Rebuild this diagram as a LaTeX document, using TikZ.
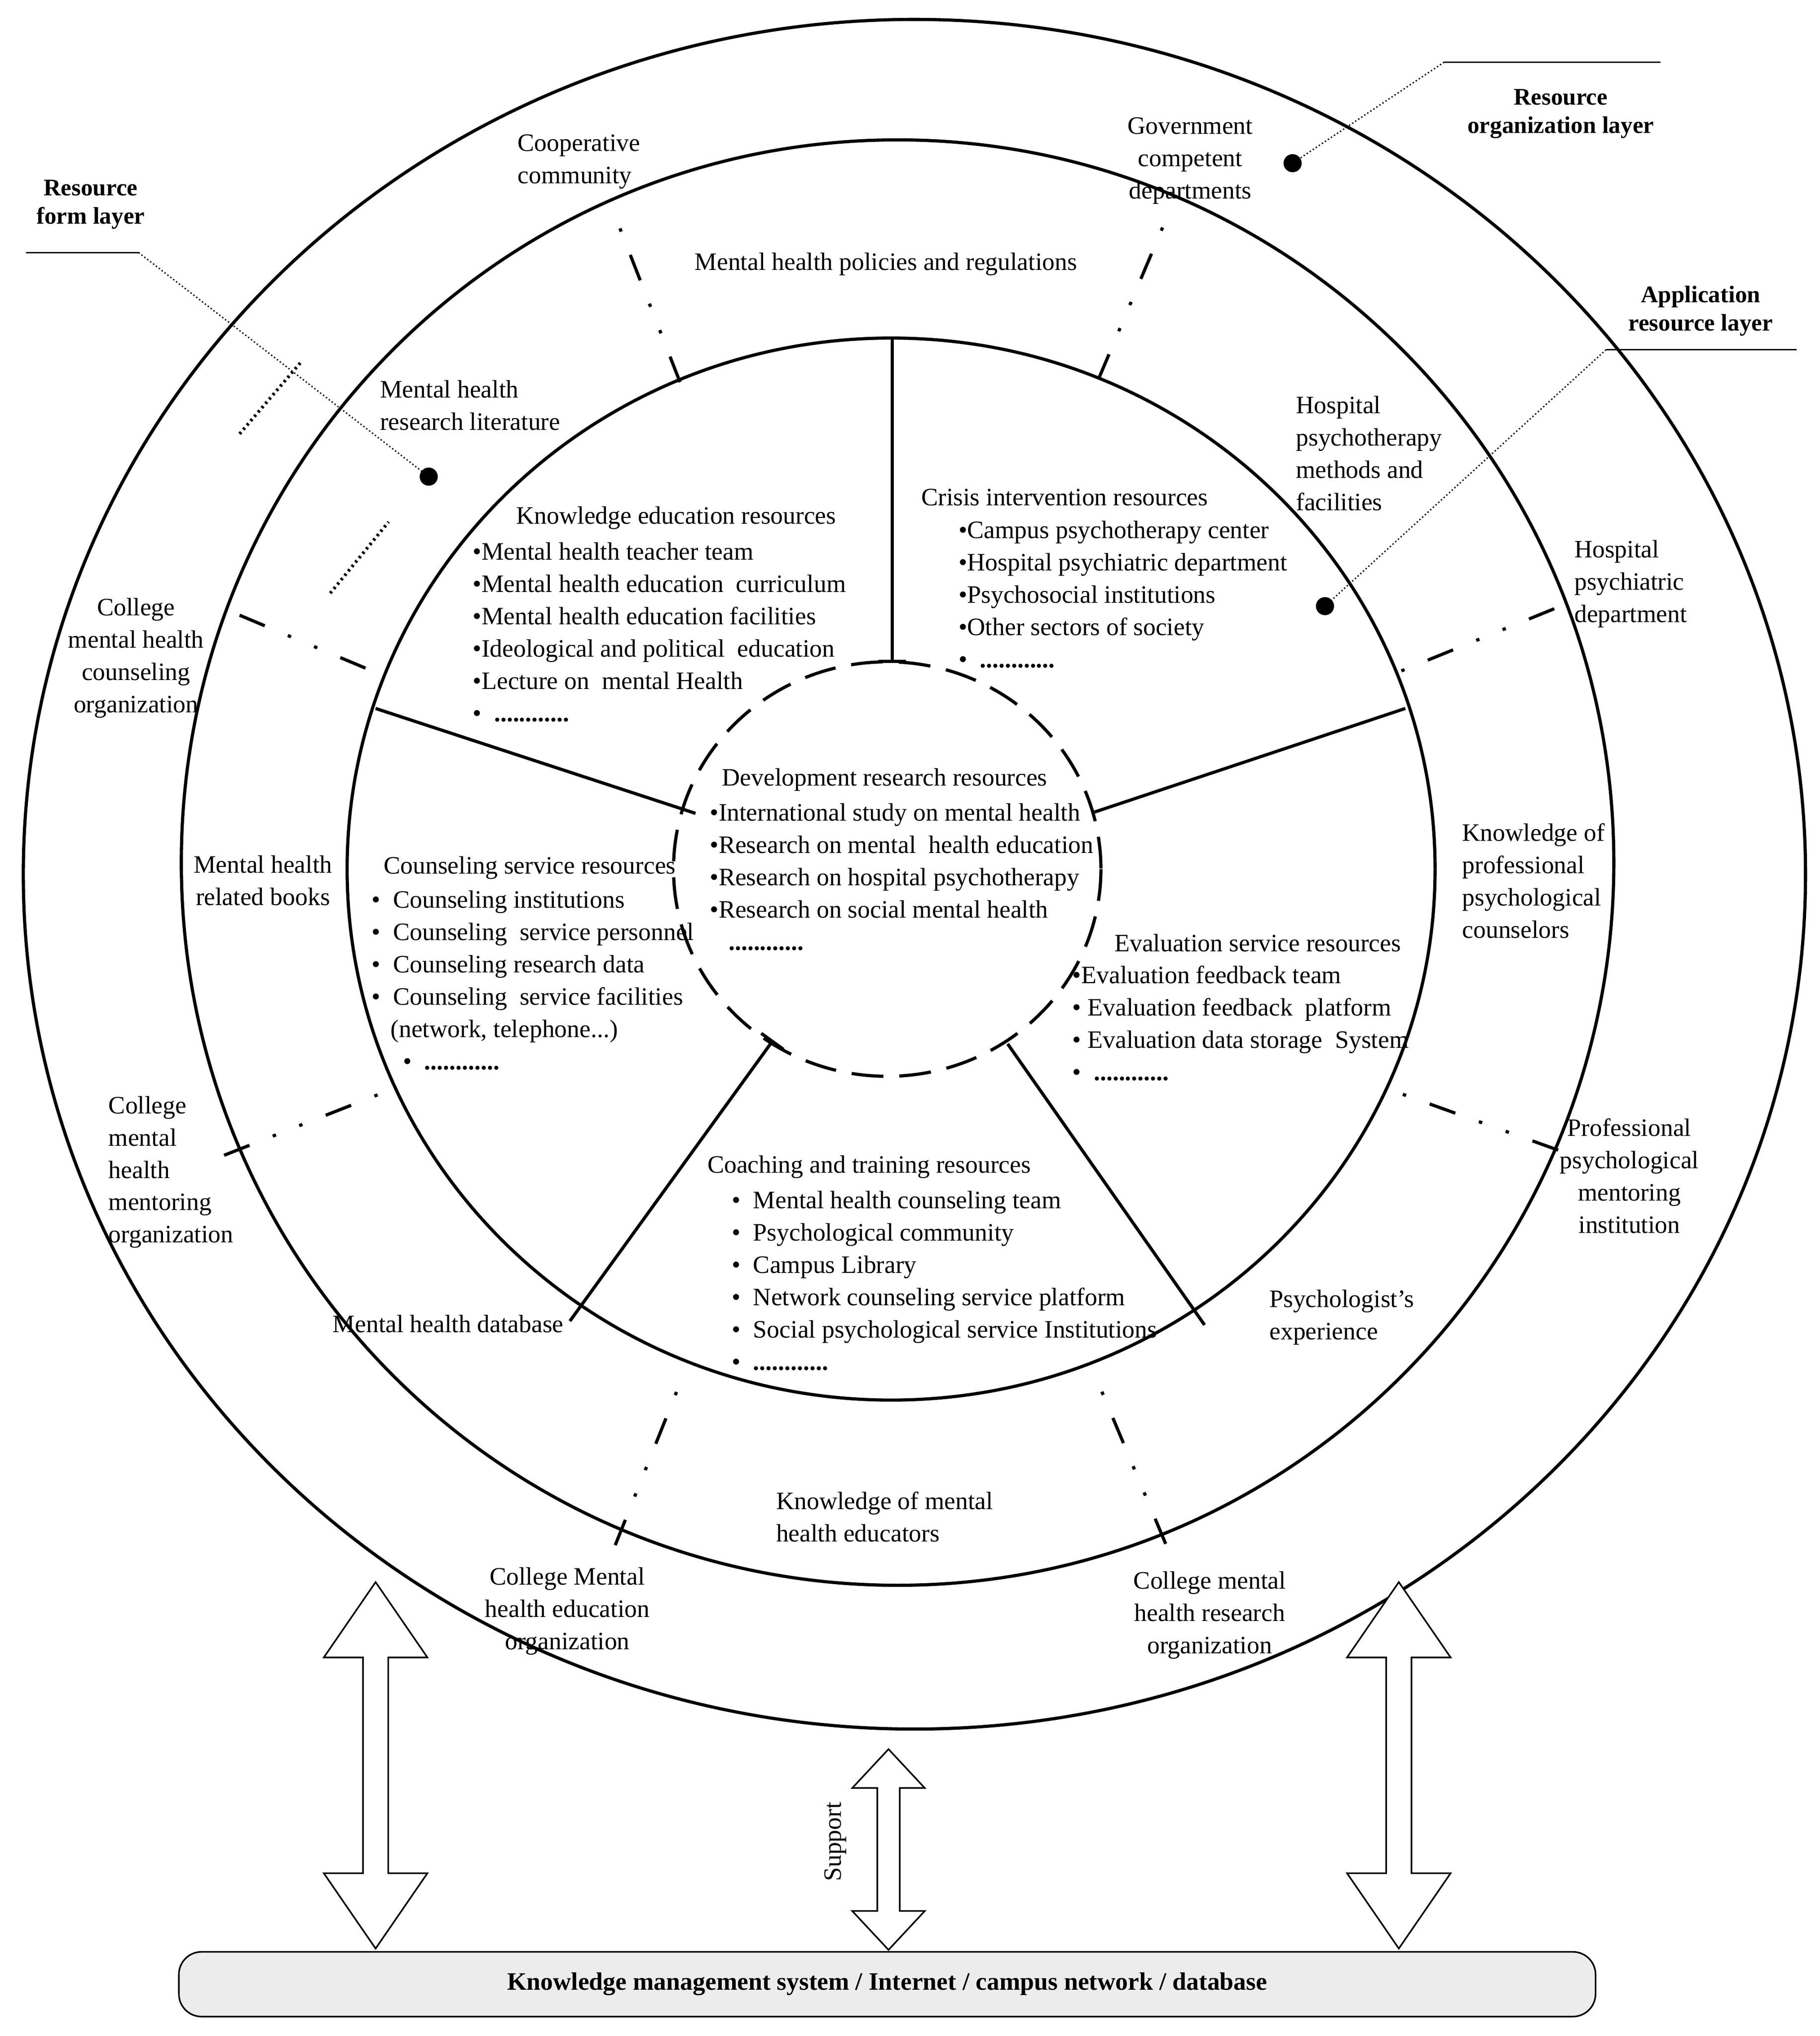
\documentclass[tikz,border=0pt]{standalone}
\usepackage{fontspec}
\setmainfont{Liberation Serif}
\usetikzlibrary{shapes.arrows, arrows.meta}

\begin{document}
\begin{tikzpicture}[x = 0.02cm, y = -0.02cm,
	txt/.style = {font = \fontsize{11}{14.2}\selectfont, inner sep = 1pt, align = center},
	lst/.style = {txt, align = left, anchor = west},
	lbl/.style = {txt, font = \fontsize{10.5}{12.5}\selectfont\bfseries},
	ring/.style = {line width = 1.4pt},
	spoke/.style = {line width = 1.4pt},
	dd/.style = {line width = 1.4pt, dash pattern = on 12pt off 11pt on 1.5pt off 11pt on 1.5pt off 11pt},
	dots/.style = {line width = 1.4pt, dash pattern = on 1pt off 1.5pt},
	lead/.style = {densely dotted, line width = 0.6pt},
	dar/.style = {draw, double arrow, rotate = 90, line width = 0.7pt, fill = white}]

\useasboundingbox (0, 0) rectangle (1405, 1572);

% rings
\draw [ring] (706, 675) ellipse [x radius = 688, y radius = 660];
\draw [ring] (693, 666) ellipse [x radius = 553, y radius = 558];
\draw [ring] (688, 671) ellipse [x radius = 420, y radius = 410];
\draw [ring, dash pattern = on 14pt off 7pt] (685, 671) ellipse [x radius = 165, y radius = 160];

% spokes
\coordinate (s1a) at (689, 262); \coordinate (s1b) at (689, 512);
\coordinate (s2a) at (290, 547); \coordinate (s2b) at (537, 628);
\coordinate (s3a) at (1085, 547); \coordinate (s3b) at (845, 627);
\coordinate (s4a) at (440, 1020); \coordinate (s4b) at (597, 803);
\coordinate (s5a) at (930, 1023); \coordinate (s5b) at (778, 806);
\draw [spoke, -{Bar[width = 12pt]}] (s1a) -- (s1b);
\draw [spoke] (s2a) -- (s2b);
\draw [spoke] (s3a) -- (s3b);
\draw [spoke, -{Bar[width = 12pt]}] (s4a) -- (s4b);
\draw [spoke] (s5a) -- (s5b);

% dash-dot separators
\foreach \a/\b/\c/\d in {525/295/475/167, 848/293/900/170, 185/475/292/520, 1200/470/1077/520,
	173/892/300/842, 1203/888/1075/842, 475/1193/525/1068, 900/1192/848/1068}
	\draw [dd] (\a, \b) -- (\c, \d);

\draw [dots] (185, 335) -- (232, 280);
\draw [dots] (255, 458) -- (300, 403);

% layer labels
\node [lbl] (form) at (70, 158) {Resource\\form layer};
\node [lbl] (org) at (1205, 88) {Resource\\organization layer};
\node [lbl] (app) at (1313, 240) {Application\\resource layer};

\coordinate (f1) at (20, 195); \coordinate (f2) at (107, 195);
\coordinate (o1) at (1115, 48); \coordinate (o2) at (1282, 48);
\coordinate (a1) at (1240, 270); \coordinate (a2) at (1387, 270);
\fill (331, 368) circle (7) coordinate (fd);
\fill (998, 126) circle (7) coordinate (od);
\fill (1023, 468) circle (7) coordinate (ad);
\draw [line width = 0.6pt] (f1) -- (f2);
\draw [line width = 0.6pt] (o1) -- (o2);
\draw [line width = 0.6pt] (a1) -- (a2);
\draw [lead] (f2) -- (fd);
\draw [lead] (o1) -- (od);
\draw [lead] (a1) -- (ad);

% outer ring texts
\node [txt, align = left] (coop) at (447, 125) {Cooperative\\community};
\node [txt] (gov) at (919, 124) {Government\\competent\\departments};
\node [txt, align = left] (hpd) at (1259, 451) {Hospital\\psychiatric\\department};
\node [txt] (cmhc) at (105, 508) {College\\mental health\\counseling\\organization};
\node [txt, align = left] (cmhm) at (132, 905) {College\\mental\\health\\mentoring\\organization};
\node [txt] (ppmi) at (1258, 908) {Professional\\psychological\\mentoring\\institution};
\node [txt] (cmhe) at (438, 1244) {College Mental\\health education\\organization};
\node [txt] (cmhr) at (934, 1247) {College mental\\health research\\organization};

% middle ring texts
\node [txt] (pol) at (684, 204) {Mental health policies and regulations};
\node [txt, align = left] (lit) at (363, 313) {Mental health\\research literature};
\node [txt, align = left] (hpm) at (1057, 350) {Hospital\\psychotherapy\\methods and\\facilities};
\node [txt] (books) at (203, 680) {Mental health\\related books};
\node [txt, align = left] (kpc) at (1184, 680) {Knowledge of\\professional\\psychological\\counselors};
\node [txt] (db) at (346, 1022) {Mental health database};
\node [txt, align = left] (exp) at (1036, 1017) {Psychologist's\\experience};
\node [txt, align = left] (kme) at (683, 1171) {Knowledge of mental\\health educators};

% inner sectors
\node [txt] (ket) at (522, 400) {Knowledge education resources};
\node [lst] (kel) at (363, 488) {•Mental health teacher team\\•Mental health education\ \ curriculum\\•Mental health education facilities\\•Ideological and political\ \ education\\•Lecture on\ \ mental Health\\•\ \ \textbf{............}};

\node [txt] (cit) at (822, 384) {Crisis intervention resources};
\node [lst] (cil) at (738, 459) {•Campus psychotherapy center\\•Hospital psychiatric department\\•Psychosocial institutions\\•Other sectors of society\\•\ \ \textbf{............}};

\node [txt] (drt) at (683, 602) {Development research resources};
\node [lst] (drl) at (546, 677) {•International study on mental health\\•Research on mental\ \ health education\\•Research on hospital psychotherapy\\•Research on social mental health\\\ \ \ \textbf{............}};

\node [txt] (cst) at (409, 670) {Counseling service resources};
\node [lst] (csl) at (285, 757) {•\ \ Counseling institutions\\•\ \ Counseling\ \ service personnel\\•\ \ Counseling research data\\•\ \ Counseling\ \ service facilities\\\ \ \ (network, telephone...)\\\ \ \ \ \ •\ \ \textbf{............}};

\node [txt] (evt) at (971, 728) {Evaluation service resources};
\node [lst] (evl) at (826, 790) {•Evaluation feedback team\\•\ Evaluation feedback\ \ platform\\•\ Evaluation data storage\ \ System\\•\ \ \textbf{............}};

\node [txt] (cot) at (671, 901) {Coaching and training resources};
\node [lst] (col) at (563, 989) {•\ \ Mental health counseling team\\•\ \ Psychological community\\•\ \ Campus Library\\•\ \ Network counseling service platform\\•\ \ Social psychological service Institutions\\•\ \ \textbf{............}};

% support arrows
\node [dar, minimum height = 5.66cm, minimum width = 1.6cm, double arrow head extend = 0.4cm,
	double arrow tip angle = 69] (arrL) at (290, 1363) {};
\node [dar, minimum height = 5.66cm, minimum width = 1.6cm, double arrow head extend = 0.4cm,
	double arrow tip angle = 69] (arrR) at (1080, 1363) {};
\node [dar, minimum height = 3.1cm, minimum width = 1.12cm, double arrow head extend = 0.29cm,
	double arrow tip angle = 86] (arrM) at (686, 1428) {};
\node [txt, rotate = 90] (sup) at (645, 1422) {Support};

% base
\node [draw, line width = 0.7pt, fill = gray!15, rounded corners = 0.35cm,
	minimum width = 21.88cm, minimum height = 1cm, font = \fontsize{11}{12}\selectfont\bfseries]
	(base) at (685, 1532) {Knowledge management system / Internet / campus network / database};

\end{tikzpicture}
\end{document}
